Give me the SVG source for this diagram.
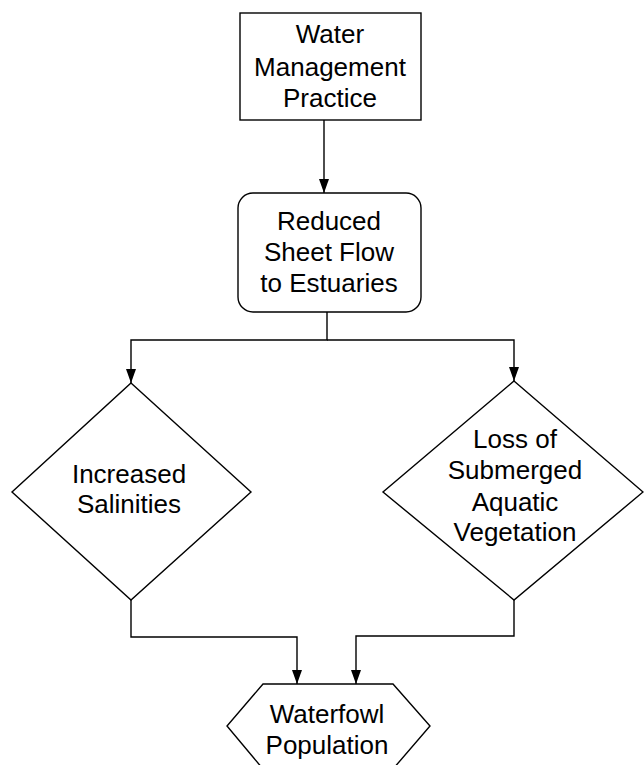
<svg xmlns="http://www.w3.org/2000/svg" width="644" height="765" viewBox="0 0 644 765">
<defs>
<marker id="ah" markerWidth="14" markerHeight="10" refX="14" refY="5" orient="auto" markerUnits="userSpaceOnUse" viewBox="0 0 14 10">
<path d="M0,0 L14,5 L0,10 Z" fill="#000"/>
</marker>
<style>
.shape{fill:#fff;stroke:#000;stroke-width:1.4}
.conn{fill:none;stroke:#000;stroke-width:1.4;marker-end:url(#ah)}
text{font-family:"Liberation Sans",Arial,sans-serif;font-size:26px;fill:#000;text-anchor:middle}
</style>
</defs>
<rect width="644" height="765" fill="#fff"/>
<g id="connectors">
<path class="conn" d="M324,120 V193"/>
<path class="conn" d="M327,312 V340 H131 V383"/>
<path class="conn" d="M327,340 H514 V381"/>
<path class="conn" d="M131,600 V637 H297 V684"/>
<path class="conn" d="M514,600 V636 H356 V684"/>
</g>
<g id="water-management">
<rect class="shape" x="240" y="13" width="181" height="107"/>
<text x="330" y="43">Water</text>
<text x="330" y="76">Management</text>
<text x="330" y="107">Practice</text>
</g>
<g id="reduced-sheet-flow">
<rect class="shape" x="238" y="193" width="183" height="119" rx="15" ry="15"/>
<text x="329" y="230">Reduced</text>
<text x="329" y="261">Sheet Flow</text>
<text x="329" y="292">to Estuaries</text>
</g>
<g id="increased-salinities">
<polygon class="shape" points="131,383 251,492 131,600 12,492"/>
<text x="129" y="483">Increased</text>
<text x="129" y="513">Salinities</text>
</g>
<g id="loss-sav">
<polygon class="shape" points="514,381 643,492 514,600 383,492"/>
<text x="515" y="448">Loss of</text>
<text x="515" y="479">Submerged</text>
<text x="515" y="511">Aquatic</text>
<text x="515" y="541">Vegetation</text>
</g>
<g id="waterfowl-population">
<polygon class="shape" points="263,684 393,684 430,726 393,769 263,769 227,726"/>
<text x="327" y="723">Waterfowl</text>
<text x="327" y="754">Population</text>
</g>
</svg>
